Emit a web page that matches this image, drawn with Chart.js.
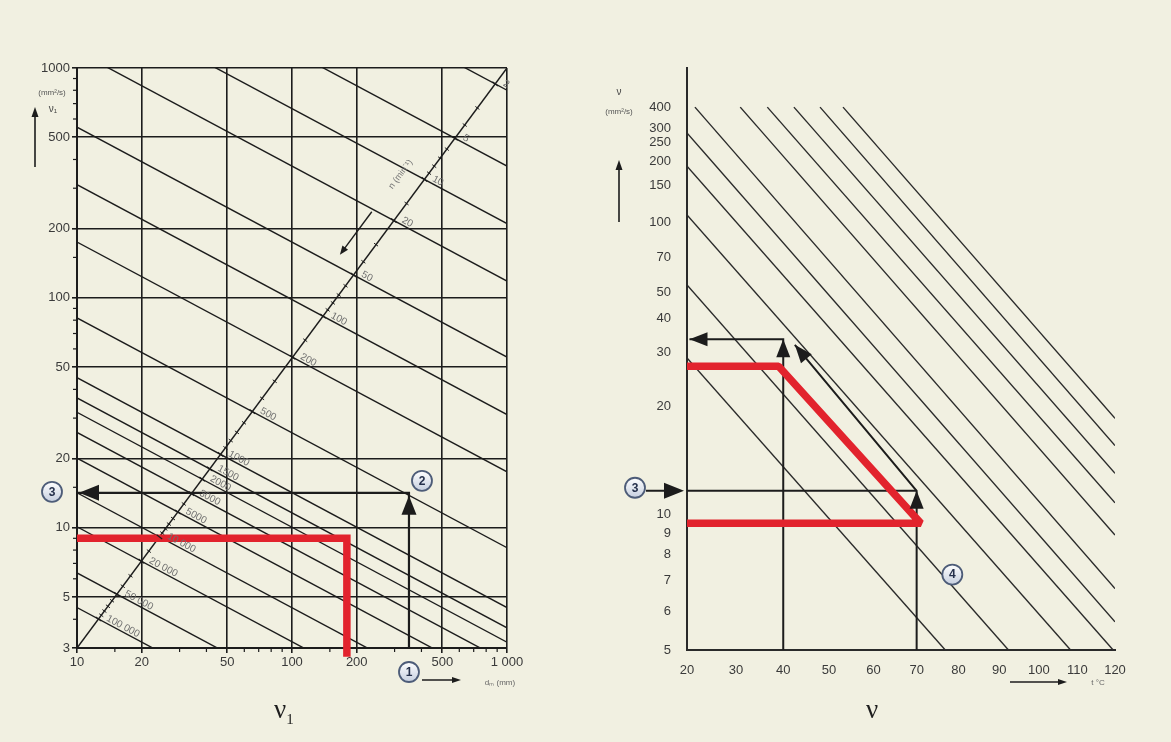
<!DOCTYPE html>
<html lang="de">
<head>
<meta charset="utf-8">
<title>ν1 / ν</title>
<script src="https://cdn.jsdelivr.net/npm/chart.js@4.4.1/dist/chart.umd.min.js"></script>
<style>
  html, body { margin: 0; background: #f1f0e1; }
  #page { position: relative; width: 1171px; height: 742px; overflow: hidden; }
  canvas { position: absolute; top: 0; }
  #leftChart { left: 0; }
  #rightChart { left: 585px; }
  .caption { position: absolute; top: 694px; font-family: 'Liberation Serif', 'DejaVu Serif', serif; font-size: 27px; color: #1e1e1e; }
  .caption sub { font-size: 15px; }
</style>
</head>
<body>
<div id="page">
  <canvas id="leftChart" width="585" height="742"></canvas>
  <canvas id="rightChart" width="586" height="742"></canvas>
  <div class="caption" style="left:274px">ν<sub>1</sub></div>
  <div class="caption" style="left:866px">ν</div>
</div>
<script>
const FONT = "'Liberation Sans Narrow', 'Liberation Sans', Arial, sans-serif";
const INK = '#1c1c1c';
const RED = '#e2232d';

// ---- left: reference viscosity ν1 vs. mean bearing diameter dm
const dmTicks = [10, 20, 50, 100, 200, 500, 1000];
const dmLabels = ['10', '20', '50', '100', '200', '500', '1 000'];
const dmMinor = [15, 30, 40, 60, 70, 80, 90, 150, 300, 400, 600, 700, 800, 900];
const nu1Ticks = [3, 5, 10, 20, 50, 100, 200, 500, 1000];
const nu1Minor = [4, 6, 7, 8, 9, 15, 30, 40, 60, 70, 80, 90, 150, 300, 400, 600, 700, 800, 900];

// speed lines, each given by its ν1 at dm = 10 mm and dm = 1000 mm
const speeds = [2, 5, 10, 20, 50, 100, 200, 500, 1000, 1500, 2000, 3000, 5000, 10000, 20000, 50000, 100000];
const speedLabels = ['2', '5', '10', '20', '50', '100', '200', '500', '1000', '1500', '2000', '3000', '5000',
                     '10 000', '20 000', '50 000', '100 000'];
const nu1AtDm10 = [8006, 3743, 2105, 1184, 553, 311, 175, 81.9, 45, 36.7, 31.8, 26, 20.1, 14.2, 10.1, 6.36, 4.5];
const nu1AtDm1000 = [800.6, 374.3, 210.5, 118.4, 55.3, 31.1, 17.5, 8.19, 4.5, 3.67, 3.18, 2.6, 2.01, 1.42, 1.01, 0.636, 0.45];
const speedMinor = [3, 4, 6, 7, 8, 9, 15, 30, 40, 60, 70, 80, 90, 150, 300, 400, 600, 700, 800, 900,
                    4000, 6000, 7000, 8000, 9000, 15000, 30000, 40000, 60000, 70000, 80000, 90000];
const speedAxis = [{ x: 10, y: 3 }, { x: 1000, y: 1000 }];

const examplePath1 = [{ x: 350, y: 3 }, { x: 350, y: 14.2 }, { x: 10, y: 14.2 }];
const resultPath1 = [{ x: 10, y: 9 }, { x: 180, y: 9 }, { x: 180, y: 2.75 }];

// ---- right: viscosity vs. temperature
const tempTicks = [20, 30, 40, 50, 60, 70, 80, 90, 100, 110, 120];
const nuTicks = [5, 6, 7, 8, 9, 10, 20, 30, 40, 50, 70, 100, 150, 200, 250, 300, 400];
const oilStartT = [20, 20, 20, 20, 20, 21.6, 30.9, 36.6, 42.3, 48.0, 53.1];
const oilStartNu = [28.8, 53.7, 108, 188, 284, 400, 400, 400, 400, 400, 400];
const oilEndT = [76.8, 92.3, 108.2, 119.5, 120, 120, 120, 120, 120, 120, 120];
const oilEndNu = [5, 5, 5, 5, 5.7, 6.7, 8.9, 10.7, 12.8, 15.3, 18.4];

const exampleLevel = [{ x: 20, y: 11.5 }, { x: 70, y: 11.5 }];
const examplePathA = [{ x: 70, y: 5 }, { x: 70, y: 11.5 }, { x: 42.5, y: 32 }];
const examplePathB = [{ x: 40, y: 5 }, { x: 40, y: 33.5 }, { x: 20.5, y: 33.5 }];
const resultPath2 = [{ x: 20, y: 27 }, { x: 39, y: 27 }, { x: 71, y: 9.5 }, { x: 20, y: 9.5 }];

// temperature axis spaced by log(T in K)
class TempScale extends Chart.LinearScale {
  static id = 'tempLog';
  configure() {
    super.configure();
    this._t0 = Math.log10(this.min + 273.15);
    this._tr = Math.log10(this.max + 273.15) - this._t0;
  }
  buildTicks() { return []; }
  getPixelForValue(v) {
    return this.getPixelForDecimal((Math.log10(v + 273.15) - this._t0) / this._tr);
  }
  getValueForPixel(p) {
    return Math.pow(10, this._t0 + this.getDecimalForPixel(p) * this._tr) - 273.15;
  }
}

// viscosity axis spaced by log(log(ν + 0.7))
class WaltherScale extends Chart.LinearScale {
  static id = 'walther';
  tf(v) { return Math.log10(Math.log10(v + 0.7)); }
  configure() {
    super.configure();
    this._w0 = this.tf(this.min);
    this._wr = this.tf(this.max) - this._w0;
  }
  buildTicks() { return []; }
  getPixelForValue(v) {
    return this.getPixelForDecimal((this.tf(v) - this._w0) / this._wr);
  }
  getValueForPixel(p) {
    return Math.pow(10, Math.pow(10, this._w0 + this.getDecimalForPixel(p) * this._wr)) - 0.7;
  }
}
Chart.register(TempScale, WaltherScale);

Chart.defaults.font.family = FONT;
Chart.defaults.color = '#3a3a3a';

function seriesLine(data, color, width, extra) {
  return Object.assign({
    data, showLine: true, borderColor: color, borderWidth: width,
    pointRadius: 0, fill: false, tension: 0, borderJoinStyle: 'miter', borderCapStyle: 'butt'
  }, extra);
}

function seg(ctx, x1, y1, x2, y2) {
  ctx.beginPath();
  ctx.moveTo(x1, y1);
  ctx.lineTo(x2, y2);
  ctx.stroke();
}

function arrowHead(ctx, x, y, angle, len, half) {
  ctx.save();
  ctx.translate(x, y);
  ctx.rotate(angle);
  ctx.beginPath();
  ctx.moveTo(0, 0);
  ctx.lineTo(-len, -half);
  ctx.lineTo(-len, half);
  ctx.closePath();
  ctx.fillStyle = INK;
  ctx.fill();
  ctx.restore();
}

function arrow(ctx, x1, y1, x2, y2, width, len, half) {
  ctx.save();
  ctx.strokeStyle = INK;
  ctx.lineWidth = width;
  const ang = Math.atan2(y2 - y1, x2 - x1);
  seg(ctx, x1, y1, x2 - Math.cos(ang) * len * 0.6, y2 - Math.sin(ang) * len * 0.6);
  arrowHead(ctx, x2, y2, ang, len, half);
  ctx.restore();
}

function badge(ctx, x, y, text) {
  ctx.save();
  const g = ctx.createLinearGradient(x, y - 10, x, y + 10);
  g.addColorStop(0, '#ffffff');
  g.addColorStop(1, '#c6cfdf');
  ctx.beginPath();
  ctx.arc(x, y, 10, 0, Math.PI * 2);
  ctx.fillStyle = g;
  ctx.fill();
  ctx.lineWidth = 1.8;
  ctx.strokeStyle = '#4d5c78';
  ctx.stroke();
  ctx.fillStyle = '#25304b';
  ctx.font = 'bold 12px ' + FONT;
  ctx.textAlign = 'center';
  ctx.textBaseline = 'middle';
  ctx.fillText(text, x, y + 0.5);
  ctx.restore();
}

function label(ctx, text, x, y, size, angle, color) {
  ctx.save();
  ctx.translate(x, y);
  if (angle) ctx.rotate(angle);
  ctx.font = size + 'px ' + FONT;
  ctx.fillStyle = color || '#555';
  ctx.textAlign = 'center';
  ctx.textBaseline = 'middle';
  ctx.fillText(text, 0, 0);
  ctx.restore();
}

function intersect(a, b, c, d) {
  const r = { x: b.x - a.x, y: b.y - a.y };
  const s = { x: d.x - c.x, y: d.y - c.y };
  const den = r.x * s.y - r.y * s.x;
  const t = ((c.x - a.x) * s.y - (c.y - a.y) * s.x) / den;
  return { x: a.x + t * r.x, y: a.y + t * r.y };
}

const leftDecor = {
  id: 'leftDecor',
  afterDatasetsDraw(chart) {
    const { ctx, chartArea: a, scales: { x, y } } = chart;
    const px = p => ({ x: x.getPixelForValue(p.x), y: y.getPixelForValue(p.y) });
    ctx.save();
    ctx.strokeStyle = INK;
    ctx.lineWidth = 1.2;

    // minor axis ticks
    dmMinor.forEach(v => { const X = x.getPixelForValue(v); seg(ctx, X, a.bottom, X, a.bottom + 4); });
    nu1Minor.forEach(v => { const Y = y.getPixelForValue(v); seg(ctx, a.left - 4, Y, a.left, Y); });

    // speed scale along the diagonal
    const d0 = px(speedAxis[0]), d1 = px(speedAxis[1]);
    const diagAng = Math.atan2(d1.y - d0.y, d1.x - d0.x);
    const nx = -Math.sin(diagAng), ny = Math.cos(diagAng);
    const marks = speeds.map((n, i) => {
      const p = px({ x: 10, y: nu1AtDm10[i] });
      const q = px({ x: 1000, y: nu1AtDm1000[i] });
      const pt = intersect(d0, d1, p, q);
      pt.ang = Math.atan2(q.y - p.y, q.x - p.x);
      return pt;
    });
    ctx.lineWidth = 1;
    speedMinor.forEach(m => {
      const i = speeds.findIndex((s, k) => k < speeds.length - 1 && s < m && speeds[k + 1] > m);
      if (i < 0) return;
      const t = (Math.log(m) - Math.log(speeds[i])) / (Math.log(speeds[i + 1]) - Math.log(speeds[i]));
      const X = marks[i].x + t * (marks[i + 1].x - marks[i].x);
      const Y = marks[i].y + t * (marks[i + 1].y - marks[i].y);
      seg(ctx, X - nx * 2.5, Y - ny * 2.5, X + nx * 2.5, Y + ny * 2.5);
    });
    ctx.lineWidth = 1.3;
    marks.forEach((m, i) => {
      seg(ctx, m.x - nx * 3.5, m.y - ny * 3.5, m.x + nx * 3.5, m.y + ny * 3.5);
      ctx.save();
      ctx.translate(m.x, m.y);
      ctx.rotate(m.ang);
      ctx.font = '10px ' + FONT;
      ctx.fillStyle = '#6f6f6f';
      ctx.textAlign = 'left';
      ctx.textBaseline = 'middle';
      ctx.fillText(speedLabels[i], 7, -5);
      ctx.restore();
    });

    // speed scale title and direction arrow
    const t = px({ x: 320, y: 345 });
    label(ctx, 'n (min⁻¹)', t.x, t.y, 9, diagAng, '#777');
    const s0 = px({ x: 235, y: 237 }), s1 = px({ x: 167, y: 154 });
    arrow(ctx, s0.x, s0.y, s1.x, s1.y, 1.4, 9, 3.5);

    // worked example arrowheads
    const e0 = px(examplePath1[0]), e1 = px(examplePath1[1]), e2 = px(examplePath1[2]);
    arrowHead(ctx, e1.x, e1.y + 3, -Math.PI / 2, 19, 7.5);
    arrowHead(ctx, e2.x + 2, e2.y, Math.PI, 20, 8);

    // axis titles
    label(ctx, '(mm²/s)', a.left - 25, a.top + 25, 8, 0, '#555');
    label(ctx, 'ν₁', a.left - 24, a.top + 41, 10, 0, '#444');
    arrow(ctx, a.left - 42, a.top + 99, a.left - 42, a.top + 39, 1.6, 10, 3.5);
    arrow(ctx, e0.x + 13, a.bottom + 32, e0.x + 52, a.bottom + 32, 1.4, 9, 3);
    label(ctx, 'dₘ (mm)', a.right - 7, a.bottom + 35, 8, 0, '#666');

    // step markers
    badge(ctx, e0.x, a.bottom + 24, '1');
    badge(ctx, e1.x + 13, e1.y - 12, '2');
    badge(ctx, a.left - 25, e1.y - 1, '3');
    ctx.restore();
  }
};

const rightDecor = {
  id: 'rightDecor',
  afterDatasetsDraw(chart) {
    const { ctx, chartArea: a, scales: { x, y } } = chart;
    const px = p => ({ x: x.getPixelForValue(p.x), y: y.getPixelForValue(p.y) });
    const tip = (to, from) => {
      const p = px(to), f = px(from);
      arrowHead(ctx, p.x, p.y, Math.atan2(p.y - f.y, p.x - f.x), 18, 7);
    };
    ctx.save();
    tip(examplePathA[1], examplePathA[0]);
    tip(examplePathA[2], examplePathA[1]);
    tip(examplePathB[1], examplePathB[0]);
    tip(examplePathB[2], examplePathB[1]);

    // axis titles
    label(ctx, 'ν', a.left - 68, a.top + 24, 10, 0, '#444');
    label(ctx, '(mm²/s)', a.left - 68, a.top + 44, 8, 0, '#555');
    arrow(ctx, a.left - 68, a.top + 154, a.left - 68, a.top + 92, 1.6, 10, 3.5);
    arrow(ctx, a.right - 105, a.bottom + 32, a.right - 48, a.bottom + 32, 1.4, 9, 3);
    label(ctx, 't °C', a.right - 17, a.bottom + 33, 8, 0, '#666');

    // step markers
    const lv = y.getPixelForValue(exampleLevel[0].y);
    arrow(ctx, a.left - 41, lv, a.left - 3, lv, 2, 20, 8);
    badge(ctx, a.left - 52, lv - 3, '3');
    const b4 = px({ x: 78.5, y: 7.2 });
    badge(ctx, b4.x, b4.y, '4');
    ctx.restore();
  }
};

function baseOptions(padding) {
  return {
    responsive: false, animation: false, devicePixelRatio: 1, events: [],
    layout: { padding },
    plugins: { legend: { display: false }, tooltip: { enabled: false } }
  };
}

const tickFont = { family: FONT, size: 13 };

new Chart(document.getElementById('leftChart'), {
  type: 'scatter',
  data: {
    datasets: [
      seriesLine(resultPath1, RED, 7.5, { clip: false }),
      seriesLine(examplePath1, INK, 2.2),
      seriesLine(speedAxis, INK, 1.5),
      ...speeds.map((n, i) => seriesLine([{ x: 10, y: nu1AtDm10[i] }, { x: 1000, y: nu1AtDm1000[i] }], INK, 1.4))
    ]
  },
  options: Object.assign(baseOptions({ left: 0, top: 68, right: 78, bottom: 64 }), {
    scales: {
      x: {
        type: 'logarithmic', min: 10, max: 1000,
        afterBuildTicks: s => { s.ticks = dmTicks.map(v => ({ value: v })); },
        afterFit: s => { s.height = 30; },
        ticks: { callback: (v, i) => dmLabels[i], font: tickFont, color: '#3a3a3a', maxRotation: 0, autoSkip: false, padding: 2 },
        grid: { color: INK, lineWidth: 1.6, tickLength: 5 },
        border: { color: INK, width: 2 }
      },
      y: {
        type: 'logarithmic', min: 3, max: 1000,
        afterBuildTicks: s => { s.ticks = nu1Ticks.map(v => ({ value: v })); },
        afterFit: s => { s.width = 77; },
        ticks: { callback: (v, i) => String(nu1Ticks[i]), font: tickFont, color: '#3a3a3a', autoSkip: false, padding: 2 },
        grid: { color: INK, lineWidth: 1.6, tickLength: 5 },
        border: { color: INK, width: 2 }
      }
    }
  }),
  plugins: [leftDecor]
});

new Chart(document.getElementById('rightChart'), {
  type: 'scatter',
  data: {
    datasets: [
      seriesLine(resultPath2, RED, 7.5, { borderJoinStyle: 'bevel' }),
      seriesLine(exampleLevel, INK, 2),
      seriesLine(examplePathA, INK, 2),
      seriesLine(examplePathB, INK, 2),
      ...oilStartT.map((t, i) => seriesLine([{ x: t, y: oilStartNu[i] }, { x: oilEndT[i], y: oilEndNu[i] }], '#2a2a2a', 1.4))
    ]
  },
  options: Object.assign(baseOptions({ left: 0, top: 68, right: 56, bottom: 62 }), {
    scales: {
      x: {
        type: 'tempLog', min: 20, max: 120,
        afterBuildTicks: s => { s.ticks = tempTicks.map(v => ({ value: v })); },
        afterFit: s => { s.height = 30; },
        ticks: { callback: (v, i) => String(tempTicks[i]), font: tickFont, color: '#3a3a3a', maxRotation: 0, autoSkip: false, padding: 5 },
        grid: { display: false },
        border: { color: '#2a2a2a', width: 2 }
      },
      y: {
        type: 'walther', min: 5, max: 700,
        afterBuildTicks: s => { s.ticks = nuTicks.map(v => ({ value: v })); },
        afterFit: s => { s.width = 102; },
        ticks: { callback: (v, i) => String(nuTicks[i]), font: tickFont, color: '#3a3a3a', autoSkip: false, padding: 8 },
        grid: { display: false },
        border: { color: '#2a2a2a', width: 2 }
      }
    }
  }),
  plugins: [rightDecor]
});
</script>
</body>
</html>
